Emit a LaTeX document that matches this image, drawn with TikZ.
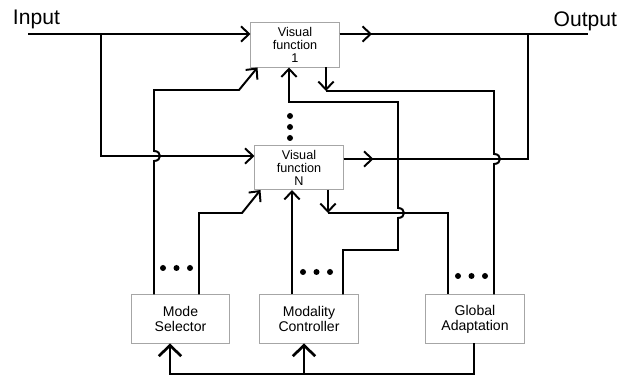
\documentclass[tikz,border=0pt]{standalone}
\usepackage{fontspec}
\setmainfont{Liberation Sans}
\usetikzlibrary{arrows.meta,calc}

\begin{document}
\begin{tikzpicture}[
    x=0.025cm, y=-0.025cm,
    line width=1.4pt,
    vfbox/.style={rectangle, draw=gray!70, line width=0.7pt, align=center, minimum width=2.2cm, minimum height=1.1cm, inner sep=1pt, font=\fontsize{9}{9.2}\selectfont},
    ctrlbox/.style={rectangle, draw=gray!70, line width=0.7pt, align=center, minimum width=2.45cm, minimum height=1.2cm, inner sep=1pt, font=\fontsize{10}{10.8}\selectfont},
    ioname/.style={inner sep=0pt, font=\fontsize{15}{15}\selectfont},
    arrow/.style={-{Straight Barb[length=2mm, width=3.8mm]}},
    bigarrow/.style={-{Straight Barb[length=2.7mm, width=5.6mm, line width=1.9pt]}}
]
\useasboundingbox (0,0) rectangle (619,379);

% blocks
\node[vfbox] (vf1) at (295,45) {Visual\\function\\1};
\node[vfbox] (vfN) at (299,167.5) {Visual\\function\\N};
\node[ctrlbox] (ms) at (180.5,319) {Mode\\Selector};
\node[ctrlbox] (mc) at (309,319) {Modality\\Controller};
\node[ctrlbox] (ga) at (475,319) {Global\\Adaptation};
\node[ioname, anchor=base west] (inlabel) at (12,25) {Input};
\node[ioname, anchor=base east] (outlabel) at (618,27) {Output};

% bends
\coordinate (inA) at (28,34);
\coordinate (split) at (101,34);
\coordinate (outA) at (588,34);
\coordinate (gather) at (528,34);
\coordinate (mid1) at (372,34);
\coordinate (vfNout) at ($(vfN.north east)+(0,14)$);
\coordinate (msA) at (154,90);
\coordinate (msB) at (199,213);
\coordinate (mcA) at (292,250);
\coordinate (mcB) at (343,250);
\coordinate (fb1) at (289,102);
\coordinate (vf1d) at (326,91);
\coordinate (gaB) at (494,91);
\coordinate (vfNd) at (328,213);
\coordinate (gaA) at (448,213);
\coordinate (loop) at (474,374);
\coordinate (msC) at (170,374);
\coordinate (mcC) at (304,374);

% input and output
\draw[arrow] (inA) -- (inA -| vf1.west);
\draw[arrow] (split) |- ($(vfN.north west)+(0,11)$);
\draw (vf1.east |- outA) -- (outA);
\draw[arrow] (vf1.east |- outA) -- (mid1);
\draw (vfNout) -- (vfNout -| gather) -- (gather);
\draw[arrow] (vfNout) -- ++(30,0);

% mode selector
\draw[arrow] (msA |- ms.north) -- (154,161) .. controls (162,161) and (162,151) .. (154,151)
    -- (msA) -- (239,90) -- ($(vf1.south west)+(7,0)$);
\draw[arrow] (msB |- ms.north) -- (msB) -- (242,213) -- ($(vfN.south west)+(6,0)$);

% modality controller
\draw[arrow] (mcA |- mc.north) -- (mcA |- vfN.south);
\draw[arrow] (mcB |- mc.north) -- (mcB) -- (398,250) -- (398,218) .. controls (406,218) and (406,208) .. (398,208)
    -- (398,102) -- (fb1) -- (fb1 |- vf1.south);

% global adaptation
\draw[arrow] (vf1d |- vf1.south) -- (vf1d);
\draw (vf1d) -- (gaB) -- (494,154) .. controls (502,154) and (502,164) .. (494,164) -- (gaB |- ga.north);
\draw[arrow] (vfNd |- vfN.south) -- (vfNd);
\draw (vfNd) -- (gaA) -- (gaA |- ga.north);

% feedback
\draw[bigarrow] (loop |- ga.south) -- (loop) -- (msC) -- (msC |- ms.south);
\draw[bigarrow] (mcC) -- (mcC |- mc.south);

% dots
\foreach \y in {116,127,138} \fill (290,\y) circle[radius=0.75mm];
\foreach \x in {163,176.5,190} \fill (\x,268) circle[radius=0.75mm];
\foreach \x in {303,316.5,330} \fill (\x,272) circle[radius=0.75mm];
\foreach \x in {458,471.5,485} \fill (\x,276) circle[radius=0.75mm];
\end{tikzpicture}
\end{document}
